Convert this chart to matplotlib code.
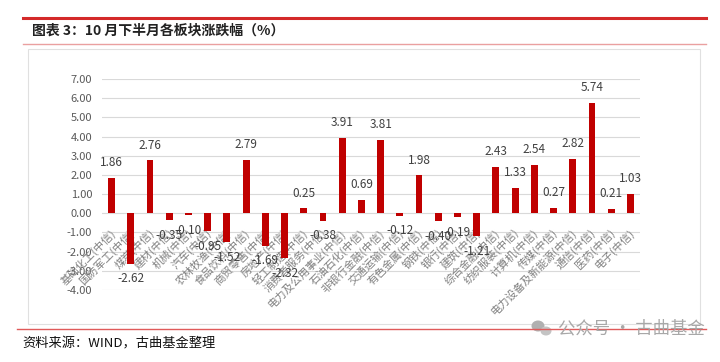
import matplotlib
matplotlib.use("Agg")
import matplotlib.pyplot as plt
from matplotlib.patches import Rectangle, Ellipse
from matplotlib.lines import Line2D

plt.rcParams['font.family'] = ['Noto Sans CJK SC', 'DejaVu Sans']

categories = ["基础化工", "国防军工", "煤炭", "建材", "机械", "汽车", "农林牧渔",
              "食品饮料", "商贸零售", "房地产", "轻工制造", "消费者服务", "电力及公用事业",
              "石油石化", "非银行金融", "交通运输", "有色金属", "钢铁", "银行", "建筑",
              "综合金融", "纺织服装", "计算机", "传媒", "电力设备及新能源", "通信", "医药", "电子"]
values = [1.86, -2.62, 2.76, -0.35, -0.10, -0.95, -1.52,
          2.79, -1.69, -2.32, 0.25, -0.38, 3.91,
          0.69, 3.81, -0.12, 1.98, -0.40, -0.19, -1.21,
          2.43, 1.33, 2.54, 0.27, 2.82, 5.74, 0.21, 1.03]
yticks = [7, 6, 5, 4, 3, 2, 1, 0, -1, -2, -3, -4]
title = "图表 3：10 月下半月各板块涨跌幅（%）"
source = "资料来源：WIND，古曲基金整理"
watermark = "公众号 · 古曲基金"

W, H = 720, 362
fig = plt.figure(figsize=(W / 100, H / 100), dpi=100)

def fx(px):
    return px / W

def fy(py):
    return 1 - py / H

# decorations
fig.add_artist(Line2D([fx(23), fx(706)], [fy(18), fy(18)], color="#d42a2a", lw=2.2))
fig.add_artist(Line2D([fx(23), fx(706)], [fy(43.5), fy(43.5)], color="#eaa0a0", lw=1.0))
fig.add_artist(Rectangle((fx(28), fy(324)), fx(700) - fx(28), fy(49) - fy(324),
                         fill=False, edgecolor="#e0e0e0", lw=0.8))
fig.add_artist(Line2D([fx(17), fx(706)], [fy(329), fy(329)], color="#e05a5a", lw=1.0))
fig.text(fx(32), fy(31), title, fontsize=10, fontweight="bold", color="#222222",
         ha="left", va="center")
fig.text(fx(22), fy(344), source, fontsize=9.5, color="#111111", ha="left", va="center")
fig.text(fx(705), fy(328), watermark, fontsize=12.5, color="#a8a8a8", ha="right", va="center")
# small chat-bubble icon for the watermark
fig.add_artist(Ellipse((fx(538), fy(326)), fx(13) - fx(0), fy(0) - fy(11),
                       color="#b0b0b0", lw=0))
fig.add_artist(Ellipse((fx(546), fy(331)), fx(11) - fx(0), fy(0) - fy(9),
                       color="#c4c4c4", lw=0))

# axes
ax = fig.add_axes([fx(102), fy(290), fx(640) - fx(102), fy(79) - fy(290)])
x = list(range(len(categories)))
ax.bar(x, values, width=0.36, color="#c00000", zorder=3)
ax.set_xlim(-0.5, len(categories) - 0.5)
ax.set_ylim(-4, 7)
ax.set_yticks(yticks)
ax.set_yticklabels([f"{v:.2f}" for v in yticks], fontsize=8, color="#595959")
ax.tick_params(axis="y", length=0, pad=7)
ax.set_xticks([])
ax.grid(axis="y", color="#d9d9d9", lw=0.8, zorder=0)
for s in ax.spines.values():
    s.set_visible(False)
ax.set_facecolor("none")

for xi, v in zip(x, values):
    off = 11 if v >= 0 else -11
    ax.annotate(f"{v:.2f}", (xi, v), xytext=(0, off), textcoords="offset points",
                ha="center", va="center", fontsize=8.5, color="#404040", zorder=4)

for xi, c in zip(x, categories):
    ax.text(xi + 0.32, -0.72, f"{c}(中信)", rotation=45, ha="right", va="top",
            fontsize=7.8, color="#808080", zorder=2)

fig.savefig("out.png", dpi=100)
